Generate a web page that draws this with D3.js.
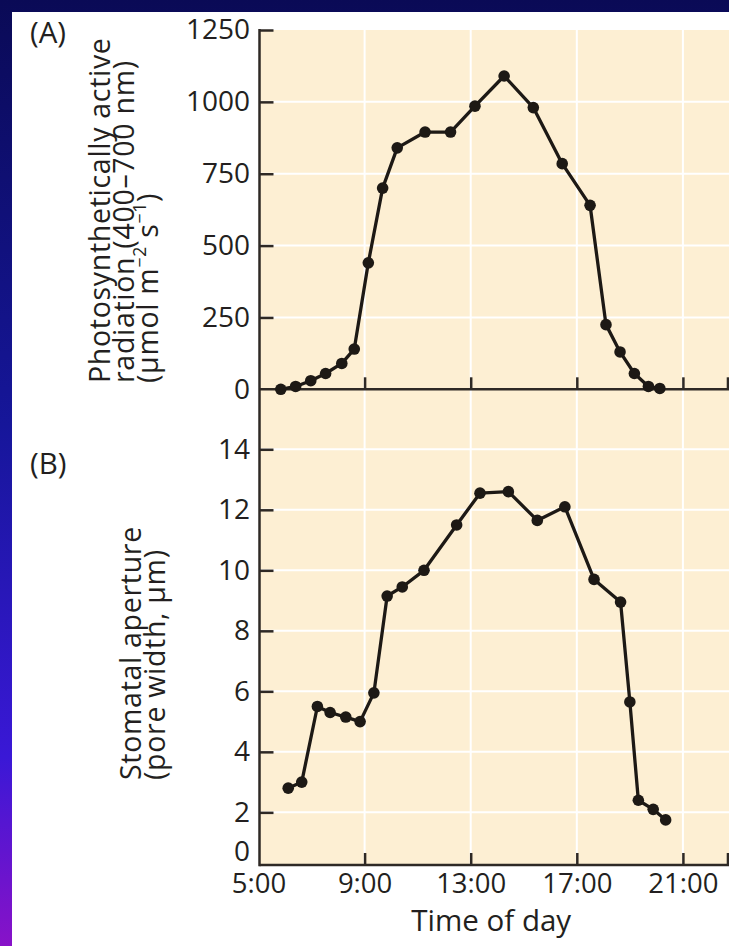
<!DOCTYPE html>
<html><head><meta charset="utf-8">
<script src="https://cdn.jsdelivr.net/npm/d3@7"></script>
<style>
html,body{margin:0;padding:0;background:#fff;overflow:hidden;}
svg{display:block;}
text{font-family:"Open Sans",sans-serif;fill:#231f20;}
</style>
</head><body><div id="chart"></div>
<script>
// ---- data ----
const timeTicks = [5, 9, 13, 17, 21];
const timeTickLabels = ["5:00", "9:00", "13:00", "17:00", "21:00"];
const parTicks = [0, 250, 500, 750, 1000, 1250];
const apertureTicks = [2, 4, 6, 8, 10, 12, 14];

const parHours  = [5.84, 6.40, 6.97, 7.53, 8.14, 8.61, 9.14, 9.68, 10.23, 11.28, 12.24, 13.16, 14.26, 15.36, 16.45, 17.50, 18.10, 18.63, 19.17, 19.70, 20.13];
const parValues = [0, 10, 30, 55, 90, 140, 440, 700, 840, 895, 895, 985, 1090, 980, 785, 640, 225, 130, 55, 10, 3];

const apertureHours  = [6.12, 6.63, 7.22, 7.70, 8.29, 8.83, 9.35, 9.85, 10.42, 11.24, 12.47, 13.35, 14.42, 15.51, 16.55, 17.65, 18.65, 19.00, 19.32, 19.88, 20.35];
const apertureValues = [2.8, 3.0, 5.5, 5.3, 5.15, 5.0, 5.95, 9.15, 9.45, 10.0, 11.5, 12.55, 12.6, 11.65, 12.1, 9.7, 8.95, 5.65, 2.4, 2.1, 1.75];

(function () {
// ---- layout ----
const W = 729, H = 946;
const ink = "#1d1915", axisInk = "#2e2925", beige = "#fdefd3";

const svg = d3.select("#chart").append("svg").attr("width", W).attr("height", H);
const defs = svg.append("defs");
const g = defs.append("linearGradient").attr("id", "bg").attr("x1", 0).attr("y1", 0).attr("x2", 0).attr("y2", 1);
[[0, "#0a0a56"], [0.45, "#16169a"], [0.8, "#3a18d6"], [1, "#8812c8"]].forEach(s =>
  g.append("stop").attr("offset", s[0]).attr("stop-color", s[1]));
svg.append("rect").attr("width", W).attr("height", H).attr("fill", "url(#bg)");
svg.append("rect").attr("x", 12).attr("y", 12).attr("width", W - 12).attr("height", H - 12).attr("fill", "#fff");

const x  = d3.scaleLinear().domain([5, 22.7]).range([258.5, 728]);
const yA = d3.scaleLinear().domain([0, 1250]).range([389.3, 30]);
const yB = d3.scaleLinear().domain([0.26, 14]).range([865, 449.3]);

const pLeft = 259.5, pRight = W, pTop = yA(1250), pBottom = yB.range()[0];

svg.append("rect").attr("x", pLeft).attr("y", pTop).attr("width", pRight - pLeft).attr("height", pBottom - pTop).attr("fill", beige);

// grid
const grid = svg.append("g").attr("stroke", "#fff").attr("stroke-width", 2);
timeTicks.slice(1).forEach(t => grid.append("line").attr("x1", x(t)).attr("x2", x(t)).attr("y1", pTop).attr("y2", pBottom));
parTicks.slice(1, -1).forEach(v => grid.append("line").attr("x1", pLeft).attr("x2", pRight).attr("y1", yA(v)).attr("y2", yA(v)));
apertureTicks.forEach(v => grid.append("line").attr("x1", pLeft).attr("x2", pRight).attr("y1", yB(v)).attr("y2", yB(v)));

// y axes
function styleAxis(sel) {
  sel.select(".domain").remove();
  sel.selectAll(".tick line").attr("stroke", axisInk).attr("stroke-width", 2.5);
  sel.selectAll(".tick text").attr("font-size", 28).attr("fill", "#231f20").style("font-family", '"Open Sans",sans-serif');
}
const axA = svg.append("g").attr("transform", `translate(${pLeft},0)`)
  .call(d3.axisLeft(yA).tickValues(parTicks).tickSize(-14).tickPadding(9.5).tickFormat(d3.format("d")));
styleAxis(axA);
axA.selectAll(".tick").filter(d => d === 0).select("line").remove();

const axB = svg.append("g").attr("transform", `translate(${pLeft},0)`)
  .call(d3.axisLeft(yB).tickValues([yB.domain()[0]].concat(apertureTicks)).tickSize(-14).tickPadding(9.5)
    .tickFormat(d => d === yB.domain()[0] ? "0" : d3.format("d")(d)));
styleAxis(axB);
axB.selectAll(".tick").filter(d => d === yB.domain()[0]).each(function () {
  d3.select(this).select("line").remove();
  d3.select(this).select("text").attr("dy", "-0.15em");
});

// x axes
const xEnd = x.domain()[1] - 0.02;
const axXA = svg.append("g").attr("transform", `translate(0,${yA(0)})`)
  .call(d3.axisBottom(x).tickValues(timeTicks.slice(1).concat([xEnd])).tickSize(-12).tickFormat(""));
styleAxis(axXA);
const axXB = svg.append("g").attr("transform", `translate(0,${pBottom})`)
  .call(d3.axisBottom(x).tickValues(timeTicks.concat([xEnd])).tickSize(-12).tickPadding(8.5)
    .tickFormat(d => { const i = timeTicks.indexOf(d); return i >= 0 ? timeTickLabels[i] : ""; }));
styleAxis(axXB);
axXB.selectAll(".tick text").attr("font-size", 27.5);
axXB.selectAll(".tick").filter(d => d === 5).select("line").remove();

// axis lines
const axl = svg.append("g").attr("stroke", axisInk).attr("stroke-width", 2.5);
axl.append("line").attr("x1", pLeft).attr("x2", pLeft).attr("y1", pTop - 1).attr("y2", pBottom + 1.2);
axl.append("line").attr("x1", pLeft).attr("x2", pRight).attr("y1", yA(0)).attr("y2", yA(0));
axl.append("line").attr("x1", pLeft).attr("x2", pRight).attr("y1", pBottom).attr("y2", pBottom);

// series
function series(hours, values, y) {
  const pts = hours.map((h, i) => ({h, v: values[i]}));
  svg.append("path").datum(pts).attr("fill", "none").attr("stroke", ink).attr("stroke-width", 3.3)
    .attr("stroke-linejoin", "round").attr("d", d3.line().x(d => x(d.h)).y(d => y(d.v)));
  svg.append("g").selectAll("circle").data(pts).join("circle")
    .attr("cx", d => x(d.h)).attr("cy", d => y(d.v)).attr("r", 5.8).attr("fill", ink);
}
series(parHours, parValues, yA);
series(apertureHours, apertureValues, yB);

// labels
const fs = 29.5, tfs = 28.5;
svg.append("text").attr("x", 30).attr("y", 43).attr("font-size", fs).text("(A)");
svg.append("text").attr("x", 30).attr("y", 474).attr("font-size", fs).text("(B)");

function rotLine(bx, by, anchor) {
  return svg.append("text").attr("transform", `translate(${bx},${by}) rotate(-90)`)
    .attr("text-anchor", anchor).attr("font-size", tfs).attr("letter-spacing", 0.7);
}
rotLine(109.5, 383, "start").text("Photosynthetically active");
rotLine(134, 383, "start").text("radiation (400–700 nm)");
const l3 = rotLine(158, 383, "start");
l3.append("tspan").text("(μmol m");
l3.append("tspan").attr("font-size", tfs * 0.62).attr("dy", -tfs * 0.42).text("−2");
l3.append("tspan").attr("dy", tfs * 0.42).text(" s");
l3.append("tspan").attr("font-size", tfs * 0.62).attr("dy", -tfs * 0.42).text("−1");
l3.append("tspan").attr("dy", tfs * 0.42).text(")");

rotLine(141, 780, "start").text("Stomatal aperture");
rotLine(165, 780, "start").text("(pore width, μm)");

svg.append("text").attr("x", (pLeft + pRight) / 2 - 3).attr("y", 931).attr("text-anchor", "middle")
  .attr("font-size", fs).text("Time of day");
})();
</script>
</body></html>
